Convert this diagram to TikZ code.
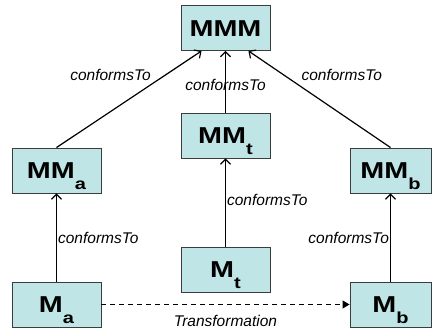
\documentclass[tikz,border=0pt]{standalone}
\usepackage{fontspec}
\setmainfont{Liberation Sans}
\newfontfamily\boxfont{Liberation Sans}[FakeStretch=1.25]
\usetikzlibrary{arrows.meta}

\definecolor{boxcyan}{RGB}{191,229,230}
\definecolor{boxline}{RGB}{60,60,60}
% hanging index letter of a model name
\newcommand\msub[1]{\raisebox{-10.5pt}{\fontsize{16}{16}\selectfont #1}}

\begin{document}
\begin{tikzpicture}[
        x=1pt, y=1pt,
        model/.style={draw=boxline, line width=0.9pt, fill=boxcyan,
            minimum height=45pt, inner sep=0pt,
            font=\boxfont\bfseries\fontsize{23}{27}\selectfont,
            text height=17pt, text depth=0pt},
        wide/.style={model, minimum width=89pt},
        narrow/.style={model, minimum width=81pt},
        conforms/.style={line width=1.2pt, -{Straight Barb[length=5pt,width=10pt,line width=1.2pt]}},
        transfo/.style={line width=1.1pt, dash pattern=on 5pt off 4pt,
            -{Triangle[length=7pt,width=8pt]}},
        lbl/.style={font=\itshape\fontsize{15.5}{17}\selectfont, inner sep=1pt}
    ]
    \useasboundingbox (0,0) rectangle (432,328);

    % the models, at fixed points (y counted from the bottom)
    \node[wide] (MMM) at (225.5,300) {MMM};
    \node[wide] (MMt) at (225.5,192.5) {MM\msub{t}};
    \node[wide] (MMa) at (56.5,157.5) {MM\msub{a}};
    \node[narrow] (MMb) at (390.5,157.5) {MM\msub{b}};
    \node[wide] (Mt) at (225.5,58.5) {M\msub{t}};
    \node[wide] (Ma) at (56.5,23.5) {M\msub{a}};
    \node[narrow] (Mb) at (390.5,23.5) {M\msub{b}};

    \draw[conforms] (MMa.north) -- node[lbl, pos=0.75, anchor=east, xshift=-13pt] {conformsTo}
        ([xshift=21pt]MMM.south west);
    \draw[conforms] (MMb.north) -- node[lbl, pos=0.75, anchor=west, xshift=16pt] {conformsTo}
        ([xshift=-22pt]MMM.south east);
    \draw[conforms] (MMt) -- node[lbl, pos=0.45] {conformsTo} (MMM);
    \draw[conforms] (Mt) -- node[lbl, pos=0.53, anchor=west] {conformsTo} (MMt);
    \draw[conforms] (Ma) -- node[lbl, pos=0.5, anchor=west] {conformsTo} (MMa);
    \draw[conforms] (Mb) -- node[lbl, pos=0.5, anchor=east] {conformsTo} (MMb);

    \draw[transfo] (Ma) -- node[lbl, yshift=-16pt] {Transformation} (Mb);
\end{tikzpicture}
\end{document}
